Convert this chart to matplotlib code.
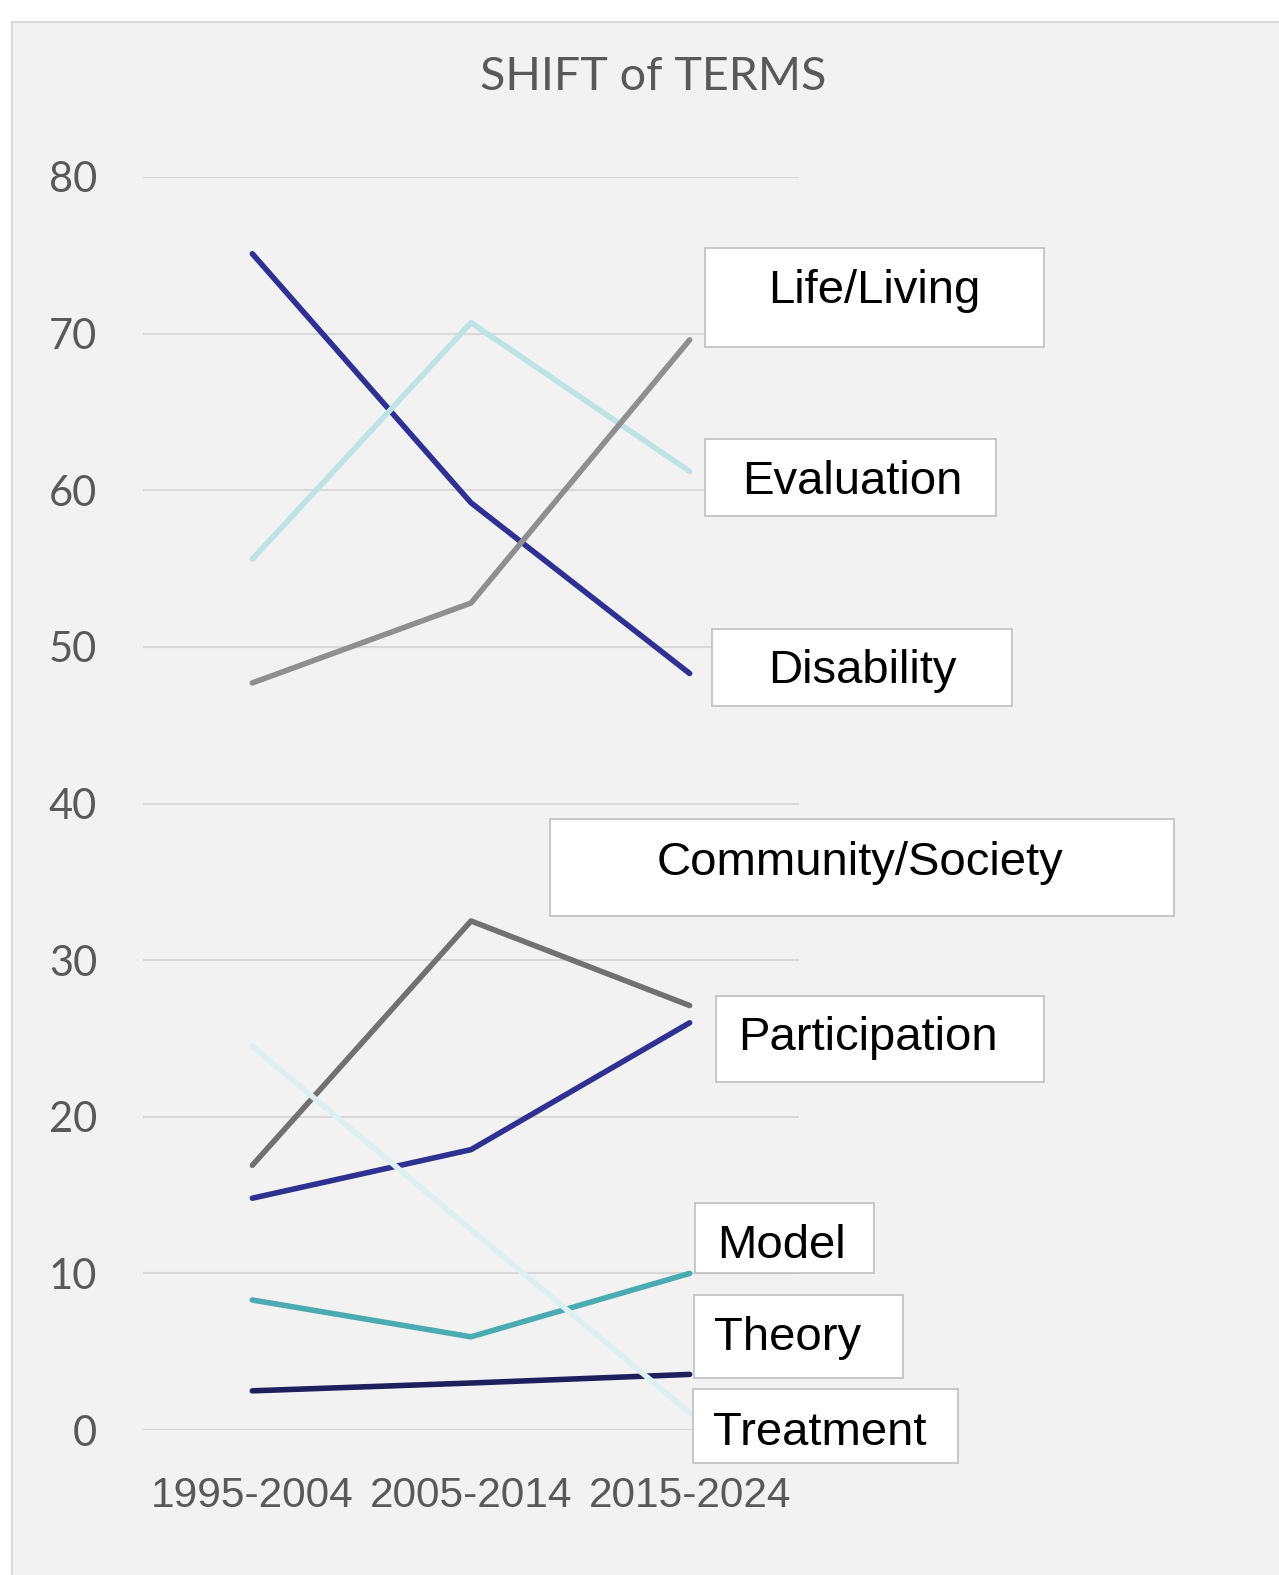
import matplotlib

matplotlib.use("Agg")

import matplotlib.pyplot as plt
from matplotlib.patches import Rectangle

# values
periods = ["1995-2004", "2005-2014", "2015-2024"]

disability = [75.1, 59.2, 48.3]
evaluation = [55.6, 70.7, 61.2]
life_living = [47.7, 52.8, 69.6]
community_society = [16.9, 32.5, 27.1]
participation = [14.8, 17.9, 26.0]
model = [8.3, 5.95, 10.0]
theory = [2.5, 3.0, 3.55]
treatment = [24.5, 12.8, 1.1]

series = [
    ("Disability", disability, "#2e3192"),
    ("Evaluation", evaluation, "#bde3e5"),
    ("Life/Living", life_living, "#8f8f8f"),
    ("Community/Society", community_society, "#717171"),
    ("Participation", participation, "#2e3192"),
    ("Model", model, "#4aabb1"),
    ("Theory", theory, "#1f1f5e"),
    ("Treatment", treatment, "#ddf0f1"),
]

# label boxes in figure pixels: box left, top, right, bottom, text left, baseline
label_boxes = {
    "Life/Living": (705, 248, 1044, 347, 768, 303),
    "Evaluation": (705, 439, 996, 516, 742, 494),
    "Disability": (712, 629, 1012, 706, 768, 683),
    "Community/Society": (550, 819, 1174, 916, 657, 875),
    "Participation": (716, 996, 1044, 1082, 738, 1050),
    "Model": (695, 1203, 874, 1273, 717, 1258),
    "Theory": (694, 1295, 903, 1378, 714, 1350),
    "Treatment": (693, 1389, 958, 1463, 713, 1445),
}

W, H = 1279, 1575
fig = plt.figure(figsize=(W / 100, H / 100), dpi=100)
fig.patch.set_facecolor("white")
fig.patches.append(
    Rectangle(
        (12 / W, -0.02),
        1.1,
        1 - 22 / H + 0.02,
        transform=fig.transFigure,
        facecolor="#f2f2f2",
        edgecolor="#d9d9d9",
        linewidth=1.5,
        zorder=-1,
    )
)

ax = fig.add_axes([143 / W, 1 - 1430 / H, (799 - 143) / W, (1430 - 177) / H])
ax.set_facecolor("none")
x = list(range(len(periods)))
for name, values, color in series:
    ax.plot(x, values, color=color, linewidth=4.0, solid_capstyle="round", zorder=3)

ax.set_xlim(-0.5, len(periods) - 0.5)
ax.set_ylim(0, 80)
ax.set_yticks(range(0, 81, 10))
ax.set_xticks(x)
ax.set_xticklabels(periods, fontfamily="Liberation Sans", fontsize=30.5, color="#595959")
for lab in ax.get_yticklabels():
    lab.set_fontfamily("Lato")
    lab.set_fontsize(30)
    lab.set_color("#595959")
ax.tick_params(axis="x", length=0, pad=33)
ax.tick_params(axis="y", length=0, pad=33)
ax.grid(axis="y", color="#d9d9d9", linewidth=1.5, zorder=1)
ax.set_axisbelow(True)
for spine in ax.spines.values():
    spine.set_visible(False)

fig.text(
    653 / W,
    1 - 90 / H,
    "SHIFT of TERMS",
    ha="center",
    va="baseline",
    fontsize=33.5,
    fontfamily="Lato",
    color="#595959",
)

for name, values, color in series:
    x0, y0, x1, y1, tx, base = label_boxes[name]
    fig.patches.append(
        Rectangle(
            (x0 / W, 1 - y1 / H),
            (x1 - x0) / W,
            (y1 - y0) / H,
            transform=fig.transFigure,
            facecolor="white",
            edgecolor="#bfbfbf",
            linewidth=1.2,
            zorder=5,
        )
    )
    fig.text(
        tx / W,
        1 - base / H,
        name,
        ha="left",
        va="baseline",
        fontsize=34,
        fontfamily="Liberation Sans",
        color="black",
        zorder=6,
    )

fig.savefig("out.png", dpi=100)
plt.close(fig)
